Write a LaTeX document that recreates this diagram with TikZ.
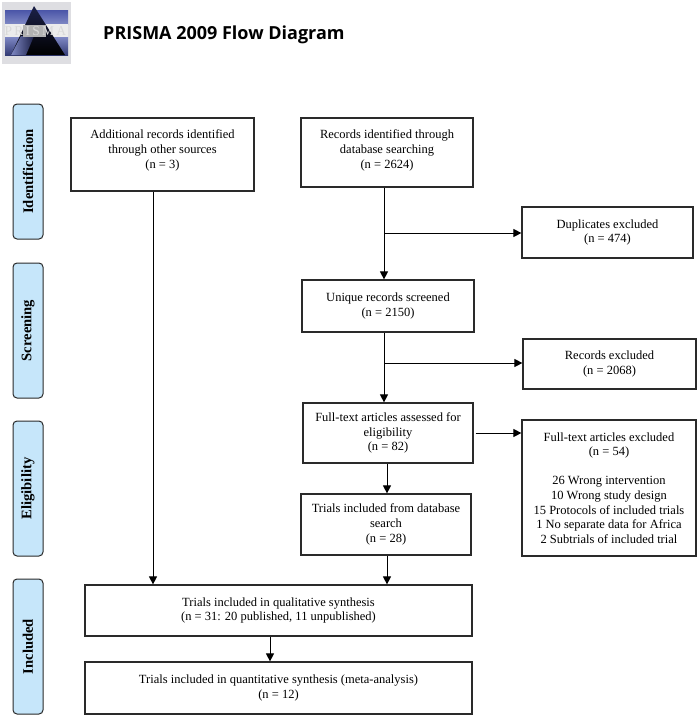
\documentclass[tikz,border=0pt]{standalone}
\usepackage{fontspec}
\setmainfont{Liberation Serif}
\newfontfamily\titlefont{Open Sans}
\usetikzlibrary{arrows.meta}
\definecolor{sidefill}{HTML}{C6E6FA}
\definecolor{linegray}{HTML}{2A2A2A}
\definecolor{bandtop}{HTML}{4A55A8}
\definecolor{bandlow}{HTML}{7F88C4}
\definecolor{navy}{HTML}{1C2148}
\definecolor{logoback}{HTML}{DEDEE2}
\tikzset{
  x=1pt,y=-1pt,
  flowbox/.style={draw=linegray,line width=1.2pt,fill=white,align=center,inner sep=0pt,
    font=\fontsize{12.5}{14.6}\selectfont},
  sidebox/.style={draw=linegray,line width=1pt,fill=sidefill,rounded corners=4pt,inner sep=0pt,
    minimum width=135pt,minimum height=30pt,rotate=90,
    font=\fontsize{14.6}{15}\selectfont\bfseries},
  link/.style={draw=black,line width=1pt,-{Triangle[length=8pt,width=8pt]}},
}
\newcommand{\bx}[5]{\node[flowbox,minimum width=#3-#2,minimum height=#5-#4] (#1) at ({(#2+#3)/2},{(#4+#5)/2})}
\begin{document}
\begin{tikzpicture}
\useasboundingbox (0,0) rectangle (700,718);
% logo
\fill[logoback] (2,2) rectangle (71,64);
\shade[top color=bandtop,bottom color=bandlow] (5,10) rectangle (68,24);
\fill[white!85!gray] (5,24) rectangle (68,37);
\shade[top color=bandlow,bottom color=bandtop!70!black] (5,37) rectangle (68,55);
\shade[top color=navy,bottom color=black] (34,6) -- (65,55) -- (11,55) -- cycle;
\shade[left color=bandlow,right color=navy] (21,36) -- (34,36) -- (26,55) -- (11,55) -- cycle;
\fill[gray!60] (22.5,25) rectangle (45.5,37);
\node[font=\fontsize{13.5}{14}\selectfont,text=white!70!gray,inner sep=0pt] (logotext) at (35.5,31) {P\,R\,I\,S\,M\,A};
\node[font=\titlefont\fontsize{18}{20}\selectfont\bfseries,anchor=west,inner sep=0pt] (title) at (103,35) {PRISMA 2009 Flow Diagram};
% side labels
\node[sidebox] (s1) at (28,171.5) {Identification};
\node[sidebox] (s2) at (28,330.5) {Screening};
\node[sidebox] (s3) at (28,488.5) {Eligibility};
\node[sidebox] (s4) at (28,646.5) {Included};
% boxes
\bx{add}{71}{254}{118}{191} {Additional records identified\\through other sources\\(n = 3)\\[-3.6pt]};
\bx{db}{301}{473}{118}{187} {Records identified through\\database searching\\(n = 2624)\\[-7.6pt]};
\bx{dup}{522}{693}{207}{258} {Duplicates excluded\\(n = 474)};
\bx{uniq}{302}{474}{280}{332} {Unique records screened\\(n = 2150)};
\bx{rex}{523}{696}{339}{389} {Records excluded\\(n = 2068)};
\bx{full}{303}{473}{403}{463} {Full-text articles assessed for\\eligibility\\(n = 82)};
\bx{tdb}{301}{471}{494}{555} {Trials included from database\\search\\(n = 28)};
\bx{fex}{522}{696}{420}{556} {Full-text articles excluded\\(n = 54)\\[14.6pt]26 Wrong intervention\\10 Wrong study design\\15 Protocols of included trials\\1 No separate data for Africa\\2 Subtrials of included trial};
\bx{qual}{85}{472}{585}{636} {Trials included in qualitative synthesis\\(n = 31: 20 published, 11 unpublished)};
\bx{quant}{85}{472}{662}{714} {Trials included in quantitative synthesis (meta-analysis)\\(n = 12)};
% connectors
\coordinate (j1) at (384,233);
\coordinate (j2) at (384,363);
\coordinate (x1) at (153,0);
\coordinate (x2) at (384,0);
\coordinate (x3) at (387,0);
\coordinate (x4) at (270,0);
\coordinate (f1) at (475.5,433);
\draw[link] (add.south -| x1) -- (qual.north -| x1);
\draw[link] (db.south -| x2) -- (uniq.north -| x2);
\draw[link] (j1) -- (j1 -| dup.west);
\draw[link] (uniq.south -| x2) -- (full.north -| x2);
\draw[link] (j2) -- (j2 -| rex.west);
\draw[link] (f1) -- (f1 -| fex.west);
\draw[link] (full.south -| x3) -- (tdb.north -| x3);
\draw[link] (tdb.south -| x3) -- (qual.north -| x3);
\draw[link] (qual.south -| x4) -- (quant.north -| x4);
\end{tikzpicture}
\end{document}
